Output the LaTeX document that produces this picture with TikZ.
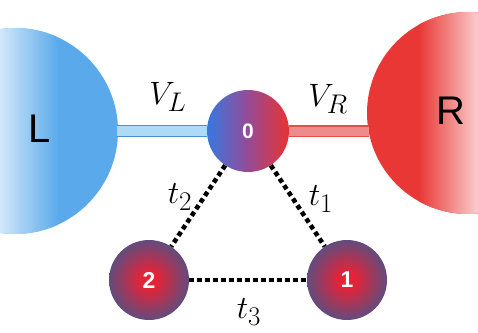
\documentclass[tikz,border=0pt]{standalone}
\usepackage{fontspec}
\newfontfamily\labfont{Liberation Sans}
\definecolor{blueL}{RGB}{90,170,235}
\definecolor{redR}{RGB}{232,55,52}
\definecolor{barBedge}{RGB}{70,145,215}
\definecolor{barBin}{RGB}{175,218,246}
\definecolor{barRedge}{RGB}{222,80,80}
\definecolor{barRin}{RGB}{238,140,140}
\definecolor{zblue}{RGB}{55,120,225}
\definecolor{zmid}{RGB}{150,75,150}
\definecolor{zred}{RGB}{232,50,50}
\definecolor{dotred}{RGB}{228,35,55}
\definecolor{dotblue}{RGB}{85,80,132}
\pgfdeclareradialshading{dotshade}{\pgfpoint{0bp}{0bp}}{color(0bp)=(dotred); color(5bp)=(dotred); color(27bp)=(dotblue); color(50bp)=(dotblue)}
\tikzset{
  site/.style={circle, inner sep=0pt, minimum size=80pt, text=white, font=\labfont\fontsize{23}{23}\selectfont\bfseries},
  dotsite/.style={site, shading=dotshade},
  hop/.style={line width=4.6pt, dash pattern=on 4.6pt off 3.4pt, black},
  bluebar/.style={line width=1.2pt, draw=barBedge, double=barBin, double distance=9.5pt},
  redbar/.style={line width=1.2pt, draw=barRedge, double=barRin, double distance=9pt},
  mlab/.style={font=\Huge, scale=1.3, transform shape},
  lead/.style={font=\labfont\fontsize{40}{40}\selectfont}
}
\begin{document}
\begin{tikzpicture}[x=1pt,y=-1pt]
\useasboundingbox (0,0) rectangle (478,332);
% left lead
\begin{scope}
  \clip (15,131) circle (103);
  \fill[blueL] (0,0) rectangle (130,332);
  \shade[left color=white, right color=blueL] (-22,0) rectangle (58,332);
\end{scope}
% right lead
\begin{scope}
  \clip (468,113) circle (101);
  \fill[redR] (360,0) rectangle (478,332);
  \shade[left color=redR, right color=white] (418,0) rectangle (498,332);
\end{scope}
\node[lead] (L) at (40,129) {L};
\node[lead] (R) at (451,111) {R};
\coordinate (Le) at (117,131);
\coordinate (Rw) at (369,131);
% sites
\node[site, left color=zblue, right color=zred, middle color=zmid, minimum size=82pt, font=\labfont\fontsize{21}{21}\selectfont\bfseries] (n0) at (248,131) {0};
\node[dotsite] (n2) at (149,280) {2};
\node[dotsite] (n1) at (347,280) {1};
% bars
\draw[bluebar] (Le) -- (n0.west);
\draw[redbar] (n0.east) -- (Rw);
% hoppings
\draw[hop] (n0) -- (n2);
\draw[hop] (n0) -- (n1);
\draw[hop] (n2) -- (n1);
% labels
\node[mlab] (vl) at (168,97) {$V_L$};
\node[mlab] (vr) at (328,99) {$V_R$};
\node[mlab] (t2) at (180,197) {$t_2$};
\node[mlab] (t1) at (321,199) {$t_1$};
\node[mlab] (t3) at (249,312) {$t_3$};
\end{tikzpicture}
\end{document}
